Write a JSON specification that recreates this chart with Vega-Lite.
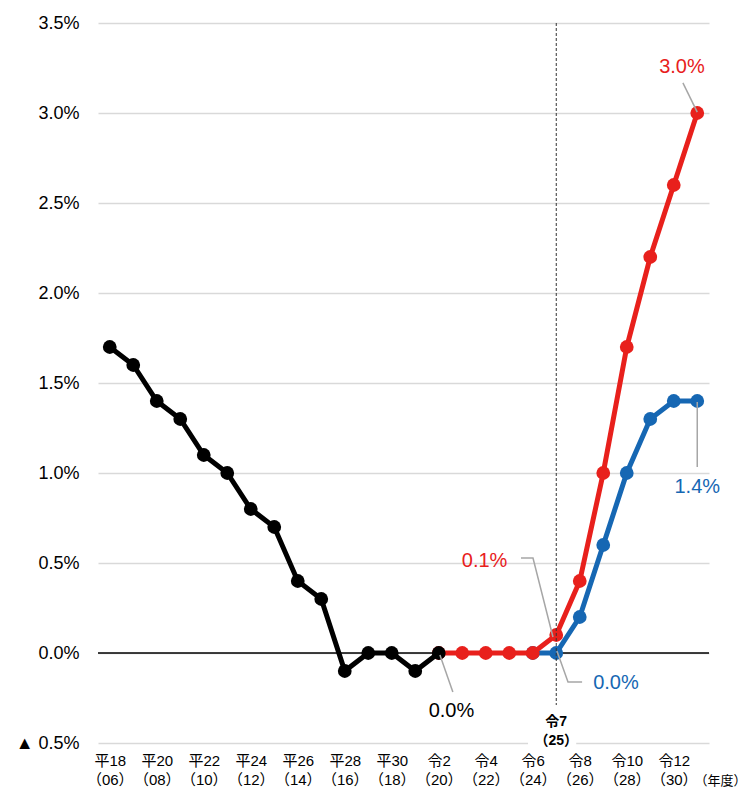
{
  "$schema": "https://vega.github.io/schema/vega-lite/v6.json",
  "width": 611,
  "height": 720,
  "autosize": {"type": "none"},
  "padding": {"left": 98, "top": 23, "right": 38, "bottom": 46},
  "background": "#ffffff",
  "config": {
    "view": {"stroke": null},
    "font": "Liberation Sans, Noto Sans CJK JP, sans-serif"
  },
  "datasets": {
    "series": [
      {"year": 2006, "value": 1.7, "series": "past"},
      {"year": 2007, "value": 1.6, "series": "past"},
      {"year": 2008, "value": 1.4, "series": "past"},
      {"year": 2009, "value": 1.3, "series": "past"},
      {"year": 2010, "value": 1.1, "series": "past"},
      {"year": 2011, "value": 1.0, "series": "past"},
      {"year": 2012, "value": 0.8, "series": "past"},
      {"year": 2013, "value": 0.7, "series": "past"},
      {"year": 2014, "value": 0.4, "series": "past"},
      {"year": 2015, "value": 0.3, "series": "past"},
      {"year": 2016, "value": -0.1, "series": "past"},
      {"year": 2017, "value": 0.0, "series": "past"},
      {"year": 2018, "value": 0.0, "series": "past"},
      {"year": 2019, "value": -0.1, "series": "past"},
      {"year": 2020, "value": 0.0, "series": "past"},
      {"year": 2020, "value": 0.0, "series": "high"},
      {"year": 2021, "value": 0.0, "series": "high"},
      {"year": 2022, "value": 0.0, "series": "high"},
      {"year": 2023, "value": 0.0, "series": "high"},
      {"year": 2024, "value": 0.0, "series": "high"},
      {"year": 2025, "value": 0.1, "series": "high"},
      {"year": 2026, "value": 0.4, "series": "high"},
      {"year": 2027, "value": 1.0, "series": "high"},
      {"year": 2028, "value": 1.7, "series": "high"},
      {"year": 2029, "value": 2.2, "series": "high"},
      {"year": 2030, "value": 2.6, "series": "high"},
      {"year": 2031, "value": 3.0, "series": "high"},
      {"year": 2024, "value": 0.0, "series": "base"},
      {"year": 2025, "value": 0.0, "series": "base"},
      {"year": 2026, "value": 0.2, "series": "base"},
      {"year": 2027, "value": 0.6, "series": "base"},
      {"year": 2028, "value": 1.0, "series": "base"},
      {"year": 2029, "value": 1.3, "series": "base"},
      {"year": 2030, "value": 1.4, "series": "base"},
      {"year": 2031, "value": 1.4, "series": "base"}
    ],
    "labels": [
      {"text": "3.0%", "x": 2030.35, "y": 3.256, "series": "high"},
      {"text": "1.4%", "x": 2031.0, "y": 0.922, "series": "base"},
      {"text": "0.1%", "x": 2021.95, "y": 0.511, "series": "high"},
      {"text": "0.0%", "x": 2027.54, "y": -0.167, "series": "base"},
      {"text": "0.0%", "x": 2020.54, "y": -0.322, "series": "past"}
    ],
    "leaders": [
      {"id": "a", "k": 0, "x": 2030.39, "y": 3.167},
      {"id": "a", "k": 1, "x": 2031.0, "y": 3.005},
      {"id": "b", "k": 0, "x": 2031.0, "y": 1.394},
      {"id": "b", "k": 1, "x": 2031.0, "y": 1.033},
      {"id": "c", "k": 0, "x": 2023.5, "y": 0.528},
      {"id": "c", "k": 1, "x": 2024.01, "y": 0.528},
      {"id": "c", "k": 2, "x": 2024.86, "y": 0.089},
      {"id": "d", "k": 0, "x": 2025.03, "y": 0.011},
      {"id": "d", "k": 1, "x": 2025.5, "y": -0.161},
      {"id": "d", "k": 2, "x": 2026.1, "y": -0.161},
      {"id": "e", "k": 0, "x": 2020.05, "y": -0.011},
      {"id": "e", "k": 1, "x": 2020.6, "y": -0.217}
    ],
    "marker": [
      {"text": "令7", "x": 2025, "y": -0.383},
      {"text": "（25）", "x": 2025, "y": -0.489}
    ],
    "gap": [
      {"x": 2023.8, "x2": 2025.85, "y": -0.48, "y2": -0.52}
    ],
    "unit": [
      {"text": "（年度）", "x": 2033.1, "y": -0.711}
    ],
    "refs": [
      {"year": 2025, "top": 3.5, "bottom": -0.289}
    ],
    "zero": [
      {"value": 0}
    ]
  },
  "layer": [
    {
      "data": {"name": "zero"},
      "mark": {"type": "rule", "color": "#000000", "strokeWidth": 1.5},
      "encoding": {
        "y": {
          "field": "value",
          "type": "quantitative",
          "scale": {"domain": [-0.5, 3.5], "nice": false, "zero": false},
          "axis": {
            "values": [-0.5, 0, 0.5, 1, 1.5, 2, 2.5, 3, 3.5],
            "title": null,
            "domain": false,
            "ticks": false,
            "grid": true,
            "gridColor": "#d9d9d9",
            "gridWidth": 1.5,
            "labelFontSize": 18,
            "labelColor": "#000000",
            "labelPadding": 19,
            "labelExpr": "datum.value < 0 ? '▲ 0.5%' : format(datum.value, '.1f') + '%'"
          }
        }
      }
    },
    {
      "data": {"name": "gap"},
      "mark": {"type": "rect", "color": "#ffffff"},
      "encoding": {
        "x": {
          "field": "x",
          "type": "quantitative",
          "scale": {"domain": [2005.5, 2031.5], "nice": false, "zero": false},
          "axis": {
            "values": [2006, 2008, 2010, 2012, 2014, 2016, 2018, 2020, 2022, 2024, 2026, 2028, 2030],
            "title": null,
            "domain": false,
            "ticks": false,
            "grid": false,
            "labelFontSize": 15,
            "labelColor": "#000000",
            "labelPadding": 10,
            "labelLineHeight": 19,
            "labelBaseline": "top",
            "labelFont": "Liberation Sans, Noto Sans CJK JP, sans-serif",
            "labelExpr": "[(datum.value <= 2018 ? '平' + (datum.value - 1988) : '令' + (datum.value - 2018)), '（' + format(datum.value % 100, '02d') + '）']"
          }
        },
        "x2": {"field": "x2"},
        "y": {"field": "y", "type": "quantitative"},
        "y2": {"field": "y2"}
      }
    },
    {
      "data": {"name": "series"},
      "transform": [{"filter": "datum.series === 'base'"}],
      "mark": {"type": "line", "strokeWidth": 5, "point": {"filled": true, "size": 190, "opacity": 1}},
      "encoding": {
        "x": {"field": "year", "type": "quantitative"},
        "y": {"field": "value", "type": "quantitative"},
        "color": {"field": "series", "type": "nominal", "scale": {"domain": ["past", "high", "base"], "range": ["#000000", "#e8201c", "#1667b3"]}, "legend": null}
      }
    },
    {
      "data": {"name": "series"},
      "transform": [{"filter": "datum.series === 'high'"}],
      "mark": {"type": "line", "strokeWidth": 5, "point": {"filled": true, "size": 190, "opacity": 1}},
      "encoding": {
        "x": {"field": "year", "type": "quantitative"},
        "y": {"field": "value", "type": "quantitative"},
        "color": {"field": "series", "type": "nominal", "legend": null}
      }
    },
    {
      "data": {"name": "series"},
      "transform": [{"filter": "datum.series === 'past'"}],
      "mark": {"type": "line", "strokeWidth": 5, "point": {"filled": true, "size": 190, "opacity": 1}},
      "encoding": {
        "x": {"field": "year", "type": "quantitative"},
        "y": {"field": "value", "type": "quantitative"},
        "color": {"field": "series", "type": "nominal", "legend": null}
      }
    },
    {
      "data": {"name": "refs"},
      "mark": {"type": "rule", "color": "#333333", "strokeWidth": 1, "strokeDash": [3, 2]},
      "encoding": {
        "x": {"field": "year", "type": "quantitative"},
        "y": {"field": "top", "type": "quantitative"},
        "y2": {"field": "bottom"}
      }
    },
    {
      "data": {"name": "leaders"},
      "mark": {"type": "line", "color": "#a6a6a6", "strokeWidth": 1.5},
      "encoding": {
        "x": {"field": "x", "type": "quantitative"},
        "y": {"field": "y", "type": "quantitative"},
        "detail": {"field": "id"},
        "order": {"field": "k"}
      }
    },
    {
      "data": {"name": "labels"},
      "mark": {"type": "text", "fontSize": 20, "align": "center", "baseline": "middle"},
      "encoding": {
        "x": {"field": "x", "type": "quantitative"},
        "y": {"field": "y", "type": "quantitative"},
        "text": {"field": "text"},
        "color": {"field": "series", "type": "nominal", "legend": null}
      }
    },
    {
      "data": {"name": "marker"},
      "mark": {"type": "text", "fontSize": 14, "fontWeight": "bold", "align": "center", "baseline": "middle", "color": "#000000"},
      "encoding": {
        "x": {"field": "x", "type": "quantitative"},
        "y": {"field": "y", "type": "quantitative"},
        "text": {"field": "text"}
      }
    },
    {
      "data": {"name": "unit"},
      "mark": {"type": "text", "fontSize": 13, "align": "right", "baseline": "middle", "color": "#000000"},
      "encoding": {
        "x": {"field": "x", "type": "quantitative"},
        "y": {"field": "y", "type": "quantitative"},
        "text": {"field": "text"}
      }
    }
  ]
}
